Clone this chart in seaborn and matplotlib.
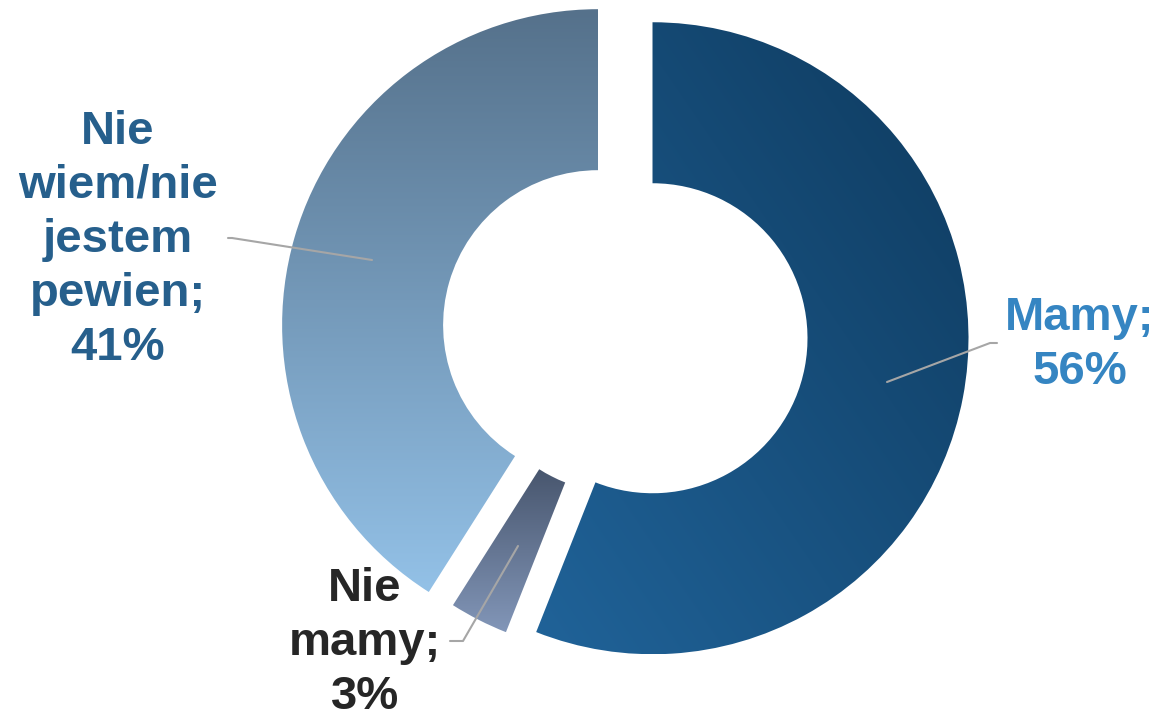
import numpy as np
import matplotlib
matplotlib.use('Agg')
import matplotlib.pyplot as plt
from matplotlib.colors import to_rgb
import seaborn as sns

sns.set_theme(style='white')
plt.rcParams['font.family'] = ['Liberation Sans', 'DejaVu Sans']

# data
labels = ['Mamy', 'Nie\nmamy', 'Nie\nwiem/nie\njestem\npewien']
values = [56, 3, 41]
label_colors = ['#3585c2', '#262626', '#265f8c']
# gradient (start, end) colours and direction per slice
grad_start = ['#0e3a5e', '#48566e', '#55718b']
grad_end = ['#206399', '#8296b8', '#93c1e7']
grad_dir = [(-1, -1), (0, -1), (0, -1)]   # from start to end in data coords

W, H = 1160, 718
fig = plt.figure(figsize=(W / 100, H / 100), dpi=100)
ax = fig.add_axes([0, 0, 1, 1])

cx, cy, R = 625, H - 333, 316
wedges, _ = ax.pie(values, startangle=90, counterclock=False, radius=R,
                   center=(cx, cy), explode=[28, 6, 28],
                   wedgeprops=dict(width=161, linewidth=0), frame=True)
ax.set_xlim(0, W)
ax.set_ylim(0, H)
ax.set_aspect('equal')
ax.axis('off')


def gradient(c0, c1, d, n=200):
    xs, ys = np.meshgrid(np.linspace(0, 1, n), np.linspace(1, 0, n))
    dx, dy = d
    t = xs * dx + ys * dy
    t = (t - t.min()) / (t.max() - t.min())
    a, b = np.array(to_rgb(c0)), np.array(to_rgb(c1))
    return a + (b - a) * t[..., None]


for w, c0, c1, d in zip(wedges, grad_start, grad_end, grad_dir):
    bb = w.get_path().get_extents()
    w.set_facecolor('none')
    img = ax.imshow(gradient(c0, c1, d), extent=[bb.x0, bb.x1, bb.y0, bb.y1],
                    origin='upper', interpolation='bilinear', zorder=2)
    img.set_clip_path(w)

ax.set_xlim(0, W)
ax.set_ylim(0, H)

# leader lines and labels
lines = [[(887, 382), (990, 343), (997, 343)],
         [(518, 546), (463, 641), (450, 641)],
         [(372, 260), (232, 238), (228, 238)]]
text_pos = [(1080, 345), (365, 643), (118, 240)]
for pts, (tx, ty), lab, v, col in zip(lines, text_pos, labels, values, label_colors):
    xs = [p[0] for p in pts]
    ys = [H - p[1] for p in pts]
    ax.plot(xs, ys, color='#a6a6a6', lw=1.5, zorder=3)
    ax.text(tx, H - ty, f'{lab};\n{v}%', ha='center', va='center', color=col,
            fontsize=34, fontweight='bold', linespacing=1.3, zorder=4)

fig.savefig('out.png', dpi=100, facecolor='white')
